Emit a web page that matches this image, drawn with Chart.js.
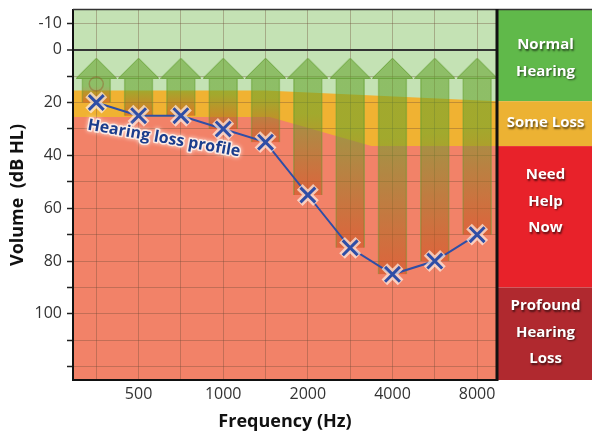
<!DOCTYPE html>
<html lang="en">
<head>
    <meta charset="UTF-8">
    <title>Hearing loss profile</title>
    <script src="https://cdn.jsdelivr.net/npm/chart.js"></script>
    <style>
        body { margin: 0; background: #fff; }
        #wrap { width: 592px; height: 437px; }
    </style>
</head>
<body>
    <div id="wrap"><canvas id="audiogram" width="592" height="437"></canvas></div>

    <script>
        // test frequencies (Hz) and the ones with a tick label
        const freqs = ["250", "500", "750", "1000", "1500", "2000", "3000", "4000", "6000", "8000"];
        const shownFreqs = ["500", "1000", "2000", "4000", "8000"];

        // measured hearing level (dB HL) at each frequency
        const hearingLevel = [20, 25, 25, 30, 35, 55, 75, 85, 80, 70];

        // faint earlier mark at 250 Hz
        const ghostMark = [{ x: 0, y: 13 }];

        // y axis ticks and which ones get a label
        const yTicks = [-10, 0, 10, 20, 30, 40, 50, 60, 70, 80, 90, 100, 110, 120];
        const yLabeled = [-10, 0, 20, 40, 60, 80, 100];

        // arrows: head level and where the shaft starts (dB HL)
        const arrowHead = 7;
        const arrowTop = 11;

        // background zones (top edge of each zone, as {freq index, dB})
        const normalTop = [{ x: -0.6, y: -15 }, { x: 9.6, y: -15 }];
        const someLossTop = [{ x: -0.6, y: 15.5 }, { x: 4, y: 15.5 }, { x: 9.6, y: 19.6 }];
        const needHelpTop = [{ x: -0.6, y: 25.5 }, { x: 4.1, y: 25.5 }, { x: 6.5, y: 36.5 }, { x: 9.6, y: 36.5 }];

        // side key
        const bandNames = [["Normal", "Hearing"], ["Some Loss"], ["Need", "Help", "Now"], ["Profound", "Hearing", "Loss"]];
        const bandLimits = [-15, 19.5, 36.5, 90, 125];
        const bandTextAt = [3.2, 27.7, 57.5, 107];

        const FONT = "'Open Sans', 'Noto Sans', sans-serif";
        const gridColor = "rgba(110, 75, 55, 0.36)";
        const blue = "#2f4ea6";
        const arrowFill = "rgba(100, 162, 42, 0.56)";

        // arrow head picture used as a point style
        const headImg = document.createElement("canvas");
        headImg.width = 41;
        headImg.height = 21;
        (function () {
            const c = headImg.getContext("2d");
            c.beginPath();
            c.moveTo(0.5, 20.5);
            c.lineTo(20.5, 0.5);
            c.lineTo(40.5, 20.5);
            c.closePath();
            c.fillStyle = arrowFill;
            c.fill();
            c.strokeStyle = "rgba(95, 155, 45, 0.8)";
            c.lineWidth = 1;
            c.stroke();
        })();

        // shaft goes from green at the top to red-orange at the bottom
        function shaftColor(ctx) {
            const chart = ctx.chart;
            if (!chart.chartArea || ctx.dataIndex === undefined) return arrowFill;
            const y = chart.scales.y;
            const y0 = y.getPixelForValue(arrowTop);
            const y1 = y.getPixelForValue(hearingLevel[ctx.dataIndex]);
            const g = chart.ctx.createLinearGradient(0, y0, 0, y1);
            g.addColorStop(0, arrowFill);
            g.addColorStop(0.3, arrowFill);
            g.addColorStop(1, "rgba(205, 75, 25, 0.55)");
            return g;
        }

        const pts = arr => arr.map((v, i) => ({ x: i, y: v }));

        const sidePanel = {
            id: "sidePanel",
            afterDraw(chart) {
                const { ctx, chartArea, scales } = chart;
                const x0 = chartArea.right;
                const x1 = chart.width;
                const colors = ["#60b94a", "#ecb233", "#e8222a", "#b0292f"];
                ctx.save();
                for (let i = 0; i < bandNames.length; i++) {
                    const t = scales.y.getPixelForValue(bandLimits[i]);
                    const b = scales.y.getPixelForValue(bandLimits[i + 1]);
                    ctx.fillStyle = colors[i];
                    ctx.fillRect(x0, t, x1 - x0, b - t);
                }
                ctx.font = "bold 15px " + FONT;
                ctx.textAlign = "center";
                ctx.textBaseline = "middle";
                ctx.fillStyle = "#fff";
                ctx.shadowColor = "rgba(0, 0, 0, 0.6)";
                ctx.shadowOffsetX = 1;
                ctx.shadowOffsetY = 1.5;
                ctx.shadowBlur = 2;
                const cx = (x0 + x1) / 2 + 1;
                bandNames.forEach((lines, i) => {
                    const cy = scales.y.getPixelForValue(bandTextAt[i]);
                    lines.forEach((s, k) => {
                        ctx.fillText(s, cx, cy + (k - (lines.length - 1) / 2) * 26.5);
                    });
                });
                ctx.restore();

                // frame lines
                ctx.save();
                ctx.strokeStyle = "#333";
                ctx.lineWidth = 1.5;
                ctx.beginPath();
                ctx.moveTo(chartArea.left, chartArea.top - 0.5);
                ctx.lineTo(x1, chartArea.top - 0.5);
                ctx.stroke();
                ctx.strokeStyle = "#111";
                ctx.lineWidth = 3;
                ctx.beginPath();
                ctx.moveTo(x0, chartArea.top - 1);
                ctx.lineTo(x0, chartArea.bottom + 1);
                ctx.stroke();
                ctx.restore();
            }
        };

        const profileLabel = {
            id: "profileLabel",
            afterDatasetsDraw(chart) {
                const { ctx, scales } = chart;
                const x = scales.x.getPixelForValue(1.6);
                const y = scales.y.getPixelForValue(33.6);
                ctx.save();
                ctx.translate(x, y);
                ctx.rotate(10 * Math.PI / 180);
                ctx.font = "bold 16px " + FONT;
                ctx.textAlign = "center";
                ctx.textBaseline = "middle";
                ctx.lineJoin = "round";
                ctx.shadowColor = "rgba(255, 255, 255, 0.9)";
                ctx.shadowBlur = 4;
                ctx.strokeStyle = "rgba(255, 246, 240, 0.8)";
                ctx.lineWidth = 3;
                ctx.strokeText("Hearing loss profile", 0, 0);
                ctx.shadowBlur = 0;
                ctx.fillStyle = "#1b3d8d";
                ctx.fillText("Hearing loss profile", 0, 0);
                ctx.restore();
            }
        };

        const chart = new Chart(document.getElementById("audiogram"), {
            type: "line",
            data: {
                datasets: [
                    {
                        // X marks
                        data: pts(hearingLevel),
                        showLine: false,
                        pointStyle: "crossRot",
                        pointRadius: 10.5,
                        pointBorderWidth: 3,
                        pointBorderColor: blue,
                        pointBackgroundColor: blue
                    },
                    {
                        // glow around the marks
                        data: pts(hearingLevel),
                        showLine: false,
                        pointStyle: "crossRot",
                        pointRadius: 11.5,
                        pointBorderWidth: 8,
                        pointBorderColor: "rgba(255, 240, 230, 0.7)",
                        pointBackgroundColor: "transparent"
                    },
                    {
                        // profile line
                        data: pts(hearingLevel),
                        borderColor: blue,
                        borderWidth: 2,
                        pointRadius: 0,
                        tension: 0
                    },
                    {
                        data: ghostMark,
                        showLine: false,
                        pointStyle: "circle",
                        pointRadius: 7,
                        pointBorderWidth: 1.5,
                        pointBorderColor: "rgba(150, 80, 40, 0.4)",
                        pointBackgroundColor: "transparent"
                    },
                    {
                        // arrow heads
                        data: freqs.map((f, i) => ({ x: i, y: arrowHead })),
                        showLine: false,
                        pointStyle: headImg,
                        pointRadius: 10
                    },
                    {
                        // arrow shafts
                        type: "bar",
                        data: hearingLevel.map((v, i) => ({ x: i, y: [arrowTop, v] })),
                        barThickness: 29,
                        grouped: false,
                        backgroundColor: shaftColor,
                        borderColor: "rgba(95, 155, 45, 0.5)",
                        borderWidth: { left: 1, right: 1, top: 0, bottom: 0 },
                        borderSkipped: false
                    },
                    {
                        data: needHelpTop,
                        borderWidth: 0,
                        borderColor: "transparent",
                        pointRadius: 0,
                        fill: { value: 125 },
                        backgroundColor: "#f28268"
                    },
                    {
                        data: someLossTop,
                        borderWidth: 0,
                        borderColor: "transparent",
                        pointRadius: 0,
                        fill: { value: 125 },
                        backgroundColor: "#f0b232"
                    },
                    {
                        data: normalTop,
                        borderWidth: 0,
                        borderColor: "transparent",
                        pointRadius: 0,
                        fill: { value: 125 },
                        backgroundColor: "#c4e2b4"
                    }
                ]
            },
            options: {
                responsive: false,
                animation: false,
                layout: { autoPadding: false, padding: { top: 10, right: 95, left: 0, bottom: 0 } },
                plugins: {
                    legend: { display: false },
                    tooltip: { enabled: false },
                    filler: { drawTime: "beforeDraw" }
                },
                scales: {
                    x: {
                        type: "linear",
                        min: -0.55,
                        max: 9.47,
                        offset: false,
                        grid: { offset: false, color: gridColor, drawTicks: false },
                        border: { color: "#111", width: 2 },
                        afterBuildTicks: s => { s.ticks = freqs.map((f, i) => ({ value: i })); },
                        afterFit: s => {
                            s.height = 57;
                            s.paddingLeft = 0;
                            s.paddingRight = 0;
                        },
                        ticks: {
                            autoSkip: false,
                            maxRotation: 0,
                            padding: 5,
                            color: "#333",
                            font: { family: FONT, size: 16 },
                            callback: v => shownFreqs.includes(freqs[v]) ? freqs[v] : ""
                        },
                        title: {
                            display: true,
                            text: "Frequency (Hz)",
                            color: "#111",
                            font: { family: FONT, size: 18, weight: "bold" },
                            padding: { top: 0, bottom: 4 }
                        }
                    },
                    y: {
                        reverse: true,
                        min: -15,
                        max: 125,
                        grid: {
                            color: c => c.tick && c.tick.value === 0 ? "#333" : gridColor,
                            lineWidth: c => c.tick && c.tick.value === 0 ? 2 : 1,
                            tickColor: "#222",
                            tickLength: 6,
                            tickWidth: 1.5
                        },
                        border: { color: "#111", width: 2 },
                        afterBuildTicks: s => { s.ticks = yTicks.map(v => ({ value: v })); },
                        afterFit: s => {
                            s.width = 73;
                            s.paddingTop = 0;
                            s.paddingBottom = 0;
                        },
                        ticks: {
                            padding: 5,
                            color: "#333",
                            font: { family: FONT, size: 16 },
                            callback: v => yLabeled.includes(v) ? String(v) : ""
                        },
                        title: {
                            display: true,
                            text: "Volume  (dB HL)",
                            color: "#111",
                            font: { family: FONT, size: 18, weight: "bold" },
                            padding: { top: 7, bottom: 0 }
                        }
                    }
                }
            },
            plugins: [sidePanel, profileLabel]
        });
    </script>
</body>
</html>
